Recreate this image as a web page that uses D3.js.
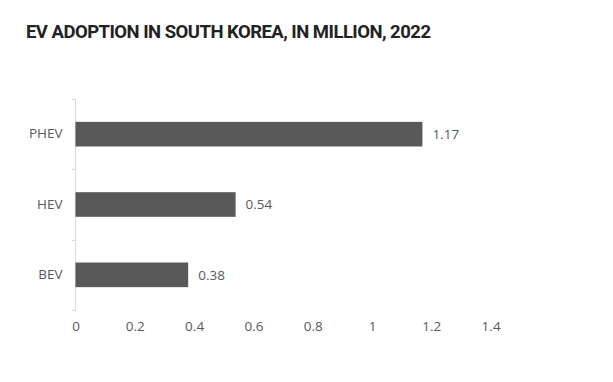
<!DOCTYPE html>
<html><head><meta charset="utf-8">
<script src="https://cdn.jsdelivr.net/npm/d3@7"></script>
<style>body{margin:0;background:#fff;}svg{display:block;}</style>
</head><body>
<script>
const categories = ["PHEV", "HEV", "BEV"];
const values = [1.17, 0.54, 0.38];
const tickValues = [0, 0.2, 0.4, 0.6, 0.8, 1, 1.2, 1.4];
const title = "EV ADOPTION IN SOUTH KOREA, IN MILLION, 2022";

const W = 613, H = 382;
const svg = d3.select("body").append("svg").attr("width", W).attr("height", H);
svg.append("rect").attr("width", W).attr("height", H).attr("fill", "#fff");

const t = svg.append("text").attr("x", 26).attr("y", 37.5)
  .attr("font-family", "Roboto, Inter, sans-serif").attr("font-weight", 700)
  .attr("font-size", 18.5).attr("fill", "#222").text(title);
const tw = t.node().getComputedTextLength();
if (Math.abs(tw - 405) > 2) t.attr("textLength", 405).attr("lengthAdjust", "spacing");

const x = d3.scaleLinear().domain([0, 1.4]).range([75.5, 490.6]);
const y = d3.scaleBand().domain(categories).range([99, 310]).paddingInner(0.65).paddingOuter(0.325);

const font = "'Open Sans', 'Noto Sans', sans-serif";
const fs = 13.5;
const tc = "#595959";

// y axis labels
const yAxis = d3.axisLeft(y).tickSize(0).tickFormat(d => d).tickPadding(13);
const yg = svg.append("g").attr("transform", "translate(75.5,0)").call(yAxis);
yg.select(".domain").remove();
yg.selectAll("text").attr("font-family", font).attr("font-size", fs).attr("fill", tc);
svg.append("line").attr("x1", 75.5).attr("x2", 75.5).attr("y1", 99).attr("y2", 310).attr("stroke", "#d9d9d9");
const bounds = [99, 99 + 211/3, 99 + 2*211/3, 310];
svg.selectAll(".yt").data(bounds).join("line").attr("x1", 71.5).attr("x2", 75.5)
  .attr("y1", d => Math.round(d) + 0.5).attr("y2", d => Math.round(d) + 0.5).attr("stroke", "#d9d9d9");

// x axis labels
const xAxis = d3.axisBottom(x).tickValues(tickValues).tickSize(0).tickPadding(0).tickFormat(d3.format("~g"));
const xg = svg.append("g").attr("transform", "translate(0,321)").call(xAxis);
xg.select(".domain").remove();
xg.selectAll("text").attr("font-family", font).attr("font-size", fs).attr("fill", tc);

// bars
svg.selectAll(".bar").data(values).join("rect")
  .attr("x", x(0)).attr("y", (d, i) => y(categories[i]))
  .attr("width", d => x(d) - x(0)).attr("height", y.bandwidth())
  .attr("fill", "#595959");

svg.selectAll(".val").data(values).join("text")
  .attr("x", d => x(d) + 10).attr("y", (d, i) => y(categories[i]) + y.bandwidth()/2)
  .attr("dy", "0.35em").attr("font-family", font).attr("font-size", fs).attr("fill", tc)
  .text(d => d);
</script>
</body></html>
